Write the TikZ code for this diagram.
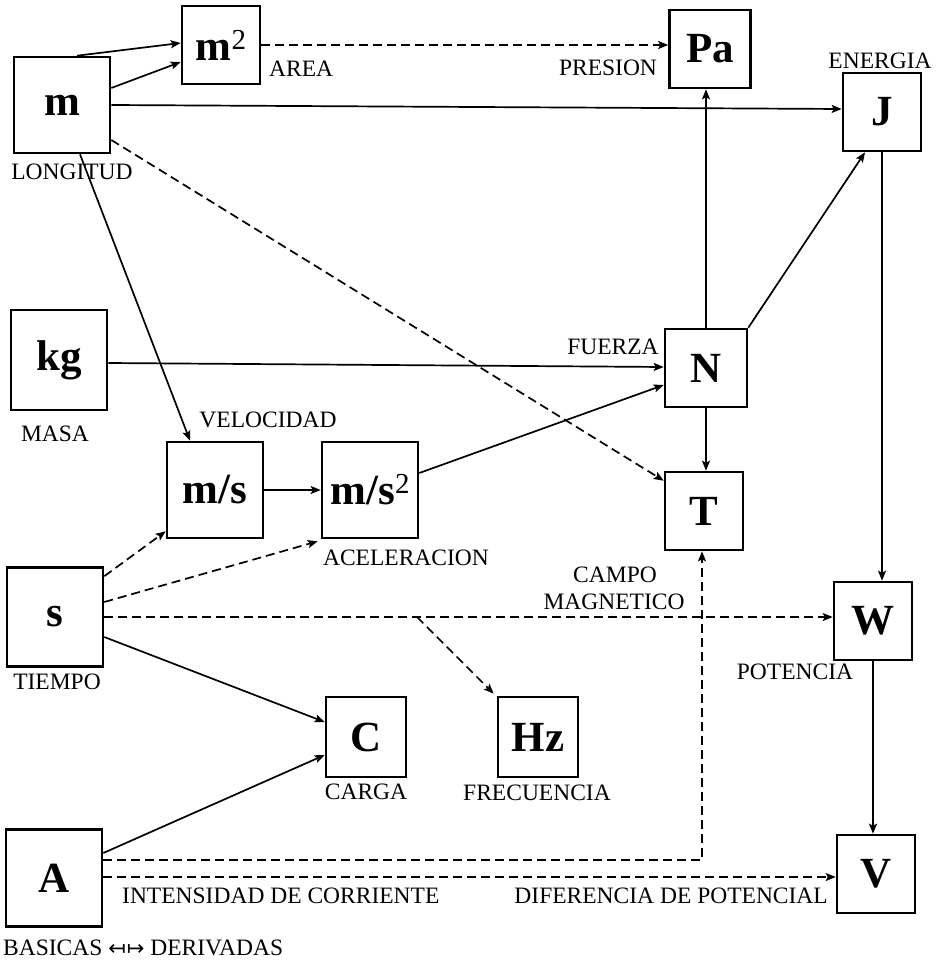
\documentclass[tikz,border=0pt]{standalone}
\usepackage{fontspec}
\setmainfont{Liberation Serif}
\newfontfamily\symfont{DejaVu Sans}
\usetikzlibrary{arrows.meta,calc}
\begin{document}
\begin{tikzpicture}[x=1pt,y=-1pt,
 unit/.style={draw,line width=2.6pt,inner sep=0pt,font=\fontsize{43}{43}\selectfont\bfseries},
 bigbox/.style={unit,minimum width=96pt,minimum height=96pt},
 smallbox/.style={unit,minimum width=78pt,minimum height=78pt},
 lbl/.style={font=\fontsize{23.5}{25}\selectfont,inner sep=0pt},
 conn/.style={line width=1.7pt,-{Stealth[length=10pt,width=8pt,inset=2pt]}},
 dconn/.style={conn,dash pattern=on 9pt off 5pt},
 ]
\useasboundingbox (0,0) rectangle (935,963);
\newcommand{\sqtwo}{\raisebox{11pt}{\fontsize{29}{29}\selectfont\mdseries 2}}
% boxes
\node[bigbox] (m) at (62,105) {m};
\node[smallbox] (m2) at (221,45) {m\sqtwo};
\node[smallbox,minimum width=81pt] (Pa) at (710,49) {Pa};
\node[smallbox] (J) at (882,112) {J};
\node[bigbox,minimum height=100pt] (kg) at (59,360) {kg};
\node[smallbox,minimum width=82pt] (N) at (706,368) {N};
\node[bigbox] (ms) at (215,490) {m/s};
\node[bigbox] (ms2) at (370,490) {m/s\sqtwo};
\node[smallbox] (T) at (704,511) {T};
\node[bigbox,minimum height=99pt] (s) at (55,617) {s};
\node[smallbox] (W) at (873,621) {W};
\node[smallbox,minimum size=80pt] (C) at (366,737) {C};
\node[smallbox,minimum size=80pt] (Hz) at (538,737) {Hz};
\node[bigbox,minimum height=97pt] (A) at (54,878) {A};
\node[smallbox] (V) at (876,874) {V};
% labels
\node[lbl,anchor=west] (lArea) at (269,69) {AREA};
\node[lbl] (lPres) at (608,68) {PRESION};
\node[lbl] (lEner) at (880,61) {ENERGIA};
\node[lbl] (lLong) at (72,172) {LONGITUD};
\node[lbl] (lMasa) at (55,434) {MASA};
\node[lbl] (lFuer) at (613,347) {FUERZA};
\node[lbl] (lVel) at (268,420) {VELOCIDAD};
\node[lbl] (lAcel) at (406,558) {ACELERACION};
\node[lbl] (lCampo) at (615,575) {CAMPO};
\node[lbl] (lMag) at (614,602) {MAGNETICO};
\node[lbl] (lTiem) at (57,682) {TIEMPO};
\node[lbl] (lPot) at (795,672) {POTENCIA};
\node[lbl] (lCarga) at (366,792) {CARGA};
\node[lbl] (lFrec) at (537,793) {FRECUENCIA};
\node[lbl,anchor=west] (lInt) at (122,896) {INTENSIDAD DE CORRIENTE};
\node[lbl,anchor=east] (lDif) at (828,896) {DIFERENCIA DE POTENCIAL};
\node[lbl,anchor=west] (lBas) at (3,948) {BASICAS {\symfont\fontsize{21}{22}\selectfont ↤\kern1pt↦} DERIVADAS};
% connectors
\draw[conn] ([xshift=15pt]m.north) -- ([yshift=2pt]m2.west);
\draw[conn] ([yshift=17pt]m.east) -- ([yshift=-17pt]m2.west);
\draw[conn] (m.east) -- ([yshift=3pt]J.west);
\draw[dconn] ([yshift=-35pt]m.east) -- ([yshift=-10pt]T.north west);
\draw[conn] ([xshift=18pt]m.south) -- ([xshift=-25pt]ms.north);
\draw[dconn] (m2.east) -- (m2.east -| Pa.west);
\draw[conn] (N.north) -- (N.north |- Pa.south);
\draw[conn] (N.north east) -- ([xshift=-17pt]J.south);
\draw[conn] ([yshift=-3pt]kg.east) -- ([yshift=1pt]N.west);
\draw[conn] (ms.east) -- (ms2.west);
\draw[conn] ([yshift=17pt]ms2.east) -- ([yshift=-17pt]N.west);
\draw[conn] (N.south) -- (N.south |- T.north);
\draw[conn] (J.south) -- (J.south |- W.north);
\draw[conn] (W.south) -- (W.south |- V.north);
\draw[dconn] ([yshift=-10pt]s.north east) -- ([yshift=8pt]ms.south west);
\draw[dconn] ([yshift=15pt]s.east) -- ([xshift=-3pt,yshift=-2pt]ms2.south west);
\draw[dconn] (s.east) -- (s.east -| W.west);
\coordinate (br) at (417,617);
\draw[dconn] (br) -- ([xshift=-3pt,yshift=2pt]Hz.north west);
\draw[conn] ([yshift=-20pt]s.east) -- ([yshift=15pt]C.west);
\draw[conn] ([yshift=25pt]A.east) -- ([yshift=-18pt]C.west);
\draw[dconn] ([yshift=18pt]A.east) -| ([xshift=-2pt]T.south);
\draw[dconn] ([yshift=1pt]A.east) -- ([yshift=1pt]A.east -| V.west);
\end{tikzpicture}
\end{document}
